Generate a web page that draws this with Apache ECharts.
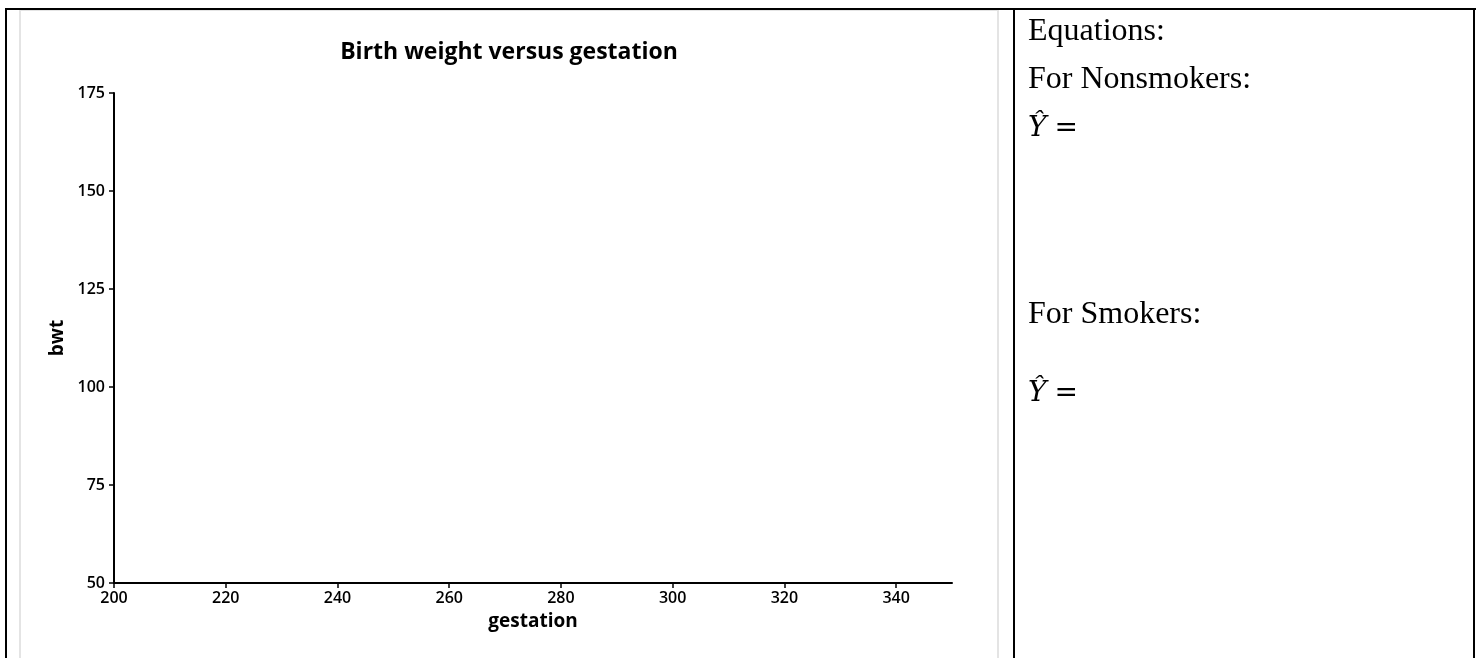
<!DOCTYPE html>
<html>
<head>
<meta charset="utf-8">
<script src="https://cdn.jsdelivr.net/npm/echarts@6/dist/echarts.min.js"></script>
<style>
  html, body { margin:0; padding:0; background:#fff; }
  body { width:1479px; height:658px; position:relative; overflow:hidden; }
  #chart { position:absolute; left:0; top:0; width:1479px; height:658px; }
  .ln { position:absolute; background:#000; }
  .gr { position:absolute; background:#e4e4e4; }
  .tx { position:absolute; left:1028px; font-family:"Liberation Serif","Times New Roman",serif; font-size:32px; line-height:32px; color:#000; white-space:nowrap; }
  .math { font-family:"DejaVu Serif","Liberation Serif",serif; font-style:italic; font-size:28px; }
  .eq { font-family:"DejaVu Serif","Liberation Serif",serif; font-size:28px; }
</style>
</head>
<body>
<div id="chart"></div>
<!-- table borders -->
<div class="ln" style="left:5px; top:8px; width:1471px; height:2px;"></div>
<div class="ln" style="left:5px; top:8px; width:2px; height:650px;"></div>
<div class="ln" style="left:1013px; top:8px; width:2px; height:650px;"></div>
<div class="ln" style="left:1473px; top:8px; width:2px; height:650px;"></div>
<!-- chart frame -->
<div class="gr" style="left:19px; top:10px; width:980px; height:1px;"></div>
<div class="gr" style="left:19px; top:10px; width:2px; height:648px;"></div>
<div class="gr" style="left:997px; top:10px; width:2px; height:648px;"></div>
<!-- right cell text -->
<div class="tx" style="top:13px;">Equations:</div>
<div class="tx" style="top:61px;">For Nonsmokers:</div>
<div class="tx" style="top:109px;"><span class="math">Ŷ</span> <span class="eq">=</span></div>
<div class="tx" style="top:296px;">For Smokers:</div>
<div class="tx" style="top:374px;"><span class="math">Ŷ</span> <span class="eq">=</span></div>
<script>
// ---- data ----
const chartTitle = 'Birth weight versus gestation';
const xName = 'gestation';
const yName = 'bwt';
const xTicks = [200, 220, 240, 260, 280, 300, 320, 340];
const yTicks = [50, 75, 100, 125, 150, 175];
const xRange = [200, 350];
const yRange = [50, 175];
// blank worksheet plot: no observations drawn
const nonsmokers = [];
const smokers = [];

const chart = echarts.init(document.getElementById('chart'), null, { renderer: 'canvas' });
const labelFont = { fontFamily: '"Open Sans", "Noto Sans", sans-serif', fontWeight: 600, fontSize: 16, color: '#000' };
const nameFont = { fontFamily: '"Open Sans", "Noto Sans", sans-serif', fontWeight: 700, fontSize: 19, color: '#000' };
chart.setOption({
  animation: false,
  backgroundColor: 'transparent',
  title: {
    text: chartTitle,
    left: 504,
    top: 36,
    textAlign: 'center',
    textStyle: { fontFamily: '"Open Sans", "Noto Sans", sans-serif', fontWeight: 700, fontSize: 23, color: '#000' }
  },
  grid: { left: 114, right: 527, top: 93, bottom: 75, containLabel: false },
  xAxis: {
    type: 'value',
    min: xRange[0], max: xRange[1], interval: 20,
    name: xName, nameLocation: 'middle', nameGap: 29,
    nameTextStyle: nameFont,
    axisLine: { show: true, onZero: false, lineStyle: { color: '#000', width: 2 } },
    axisTick: { show: true, inside: false, length: 5, lineStyle: { color: '#000', width: 1.5 }, customValues: xTicks },
    axisLabel: Object.assign({ margin: 7, customValues: xTicks }, labelFont),
    splitLine: { show: false }
  },
  yAxis: {
    type: 'value',
    min: yRange[0], max: yRange[1], interval: 25,
    name: yName, nameLocation: 'middle', nameGap: 46, nameRotate: 90,
    nameTextStyle: nameFont,
    axisLine: { show: true, onZero: false, lineStyle: { color: '#000', width: 2 } },
    axisTick: { show: true, inside: false, length: 5, lineStyle: { color: '#000', width: 1.5 }, customValues: yTicks },
    axisLabel: Object.assign({ margin: 9, customValues: yTicks }, labelFont),
    splitLine: { show: false }
  },
  series: [
    { name: 'Nonsmokers', type: 'scatter', data: nonsmokers },
    { name: 'Smokers', type: 'scatter', data: smokers }
  ]
});
</script>
</body>
</html>
